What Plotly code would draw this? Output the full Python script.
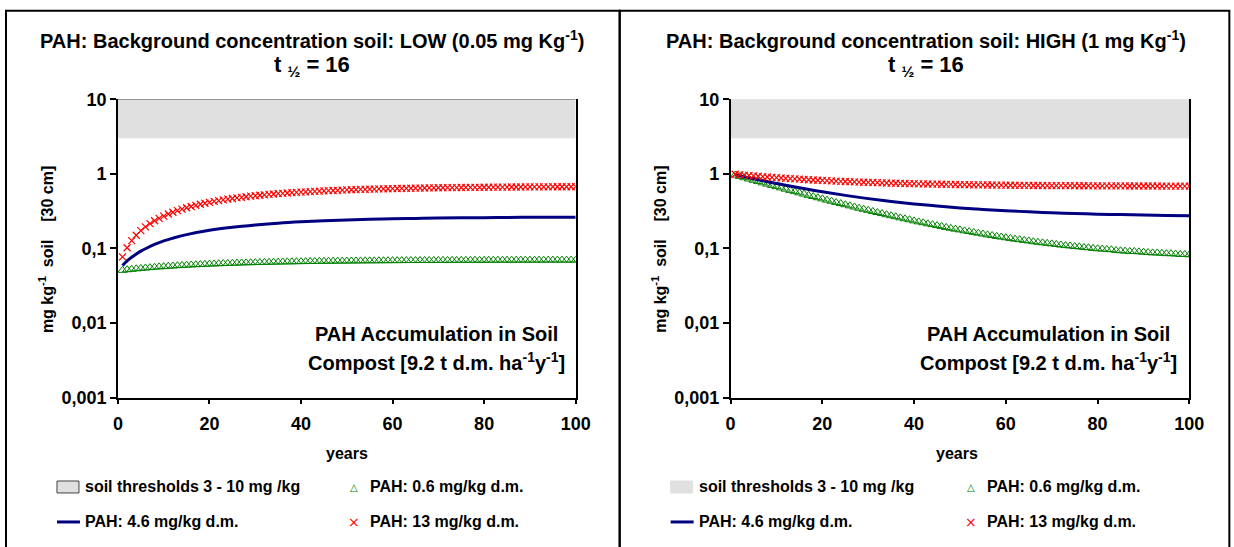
import plotly.graph_objects as go

# the page is photographed with a small offset and scale, so positions
# below are given in reference pixels and mapped onto the figure
W, H = 1234, 547
SX, SY = 0.9845, 0.9648
OX, OY = 5.0, 8.7
FW, FH = 1248, 558

# years with annual values (markers)
years = list(range(1, 101))

# LOW background (0.05 mg/kg)
low_13 = [0.077, 0.102, 0.127, 0.150, 0.173, 0.194, 0.215, 0.235, 0.253, 0.271,
          0.289, 0.305, 0.321, 0.336, 0.351, 0.365, 0.378, 0.391, 0.403, 0.415,
          0.426, 0.437, 0.447, 0.457, 0.467, 0.476, 0.484, 0.493, 0.501, 0.508,
          0.516, 0.523, 0.529, 0.536, 0.542, 0.548, 0.553, 0.559, 0.564, 0.569,
          0.573, 0.578, 0.582, 0.586, 0.590, 0.594, 0.598, 0.601, 0.605, 0.608,
          0.611, 0.614, 0.617, 0.619, 0.622, 0.624, 0.627, 0.629, 0.631, 0.633,
          0.635, 0.637, 0.639, 0.641, 0.642, 0.644, 0.645, 0.647, 0.648, 0.650,
          0.651, 0.652, 0.653, 0.654, 0.656, 0.657, 0.658, 0.659, 0.659, 0.660,
          0.661, 0.662, 0.663, 0.663, 0.664, 0.665, 0.665, 0.666, 0.667, 0.667,
          0.668, 0.668, 0.669, 0.669, 0.670, 0.670, 0.671, 0.671, 0.671, 0.672]

low_06 = [0.0508, 0.0517, 0.0524, 0.0532, 0.0539, 0.0546, 0.0552, 0.0559, 0.0565, 0.0570,
          0.0576, 0.0581, 0.0586, 0.0591, 0.0596, 0.0600, 0.0604, 0.0608, 0.0612, 0.0616,
          0.0619, 0.0623, 0.0626, 0.0629, 0.0632, 0.0635, 0.0638, 0.0641, 0.0643, 0.0645,
          0.0648, 0.0650, 0.0652, 0.0654, 0.0656, 0.0658, 0.0660, 0.0661, 0.0663, 0.0665,
          0.0666, 0.0668, 0.0669, 0.0670, 0.0672, 0.0673, 0.0674, 0.0675, 0.0676, 0.0677,
          0.0678, 0.0679, 0.0680, 0.0681, 0.0682, 0.0682, 0.0683, 0.0684, 0.0684, 0.0685,
          0.0686, 0.0686, 0.0687, 0.0688, 0.0688, 0.0689, 0.0689, 0.0689, 0.0690, 0.0690,
          0.0691, 0.0691, 0.0692, 0.0692, 0.0692, 0.0693, 0.0693, 0.0693, 0.0693, 0.0694,
          0.0694, 0.0694, 0.0695, 0.0695, 0.0695, 0.0695, 0.0695, 0.0696, 0.0696, 0.0696,
          0.0696, 0.0696, 0.0696, 0.0697, 0.0697, 0.0697, 0.0697, 0.0697, 0.0697, 0.0697]

# 4.6 mg/kg line (no markers)
line_years = [1, 2, 3, 4, 5, 6, 8, 10, 12, 15, 20, 25, 30, 35, 40, 45, 50,
              55, 60, 65, 70, 75, 80, 85, 90, 95, 100]
low_46 = [0.059, 0.068, 0.076, 0.084, 0.092, 0.099, 0.113, 0.126, 0.137, 0.153,
          0.175, 0.192, 0.206, 0.218, 0.227, 0.234, 0.240, 0.245, 0.249, 0.252,
          0.255, 0.257, 0.258, 0.260, 0.261, 0.262, 0.262]

# HIGH background (1 mg/kg)
high_13 = [0.986, 0.973, 0.961, 0.949, 0.938, 0.927, 0.916, 0.906, 0.897, 0.888,
           0.879, 0.870, 0.862, 0.854, 0.847, 0.840, 0.833, 0.827, 0.820, 0.815,
           0.809, 0.803, 0.798, 0.793, 0.788, 0.784, 0.779, 0.775, 0.771, 0.767,
           0.764, 0.760, 0.757, 0.753, 0.750, 0.747, 0.744, 0.742, 0.739, 0.737,
           0.734, 0.732, 0.730, 0.728, 0.726, 0.724, 0.722, 0.720, 0.718, 0.717,
           0.715, 0.714, 0.712, 0.711, 0.710, 0.708, 0.707, 0.706, 0.705, 0.704,
           0.703, 0.702, 0.701, 0.700, 0.699, 0.698, 0.698, 0.697, 0.696, 0.695,
           0.695, 0.694, 0.694, 0.693, 0.692, 0.692, 0.691, 0.691, 0.690, 0.690,
           0.690, 0.689, 0.689, 0.688, 0.688, 0.688, 0.687, 0.687, 0.687, 0.686,
           0.686, 0.686, 0.686, 0.685, 0.685, 0.685, 0.685, 0.685, 0.684, 0.684]

high_06 = [0.961, 0.923, 0.887, 0.852, 0.819, 0.787, 0.757, 0.728, 0.700, 0.673,
           0.647, 0.623, 0.600, 0.577, 0.556, 0.535, 0.515, 0.496, 0.478, 0.461,
           0.444, 0.429, 0.413, 0.399, 0.385, 0.372, 0.359, 0.346, 0.335, 0.324,
           0.313, 0.303, 0.293, 0.283, 0.274, 0.266, 0.257, 0.249, 0.242, 0.234,
           0.227, 0.221, 0.214, 0.208, 0.202, 0.197, 0.191, 0.186, 0.181, 0.177,
           0.172, 0.168, 0.164, 0.160, 0.156, 0.152, 0.149, 0.145, 0.142, 0.139,
           0.136, 0.133, 0.131, 0.128, 0.126, 0.123, 0.121, 0.119, 0.117, 0.115,
           0.113, 0.111, 0.109, 0.108, 0.106, 0.105, 0.103, 0.102, 0.100, 0.099,
           0.098, 0.097, 0.096, 0.094, 0.093, 0.092, 0.091, 0.091, 0.090, 0.089,
           0.088, 0.087, 0.087, 0.086, 0.085, 0.085, 0.084, 0.083, 0.083, 0.082]

high_46 = [0.969, 0.939, 0.910, 0.883, 0.857, 0.832, 0.785, 0.742, 0.702, 0.649,
           0.574, 0.514, 0.465, 0.426, 0.395, 0.370, 0.349, 0.333, 0.320, 0.309,
           0.300, 0.294, 0.288, 0.284, 0.280, 0.277, 0.275]

# soil thresholds band
band_x = [0, 100]
band_low = [3, 3]
band_high = [10, 10]

y_ticks = [0.001, 0.01, 0.1, 1, 10]
y_ticktext = ['0,001', '0,01', '0,1', '1', '10']
x_ticks = [0, 20, 40, 60, 80, 100]

titles = ['PAH: Background concentration soil: LOW (0.05 mg Kg<sup>-1</sup>)',
          'PAH: Background concentration soil: HIGH (1 mg Kg<sup>-1</sup>)']
legend_names = ['soil thresholds 3 - 10 mg /kg', 'PAH: 0.6 mg/kg d.m.',
                'PAH: 4.6 mg/kg d.m.', 'PAH: 13 mg/kg d.m.']

FONT = 'Liberation Sans, Arial, sans-serif'
GREEN = '#008000'
RED = '#ff0000'
NAVY = '#000080'
BAND = '#e0e0e0'


def X(px):
    return ((px - OX) / SX) / FW


def Y(py):
    return 1 - ((py - OY) / SY) / FH


def label(px, py, text, size, **kw):
    d = dict(x=X(px), y=Y(py), xref='paper', yref='paper', text=text, showarrow=False,
             xanchor='center', yanchor='middle',
             font=dict(family=FONT, size=size, color='black'))
    d.update(kw)
    return d


fig = go.Figure()

panels = [
    dict(xa='x', ya='y', s13=low_13, s06=low_06, s46=low_46, band_line='#505050'),
    dict(xa='x2', ya='y2', s13=high_13, s06=high_06, s46=high_46, band_line=BAND),
]

for p in panels:
    fig.add_trace(go.Scatter(x=band_x, y=band_low, mode='lines', line=dict(width=0, color=BAND),
                             xaxis=p['xa'], yaxis=p['ya'], showlegend=False, hoverinfo='skip'))
    fig.add_trace(go.Scatter(x=band_x, y=band_high, mode='lines', fill='tonexty', fillcolor=BAND,
                             line=dict(width=1, color=p['band_line']),
                             xaxis=p['xa'], yaxis=p['ya'], showlegend=False, hoverinfo='skip'))
    fig.add_trace(go.Scatter(x=years, y=p['s06'], mode='markers',
                             marker=dict(symbol='triangle-up-open', size=8, color=GREEN,
                                         line=dict(width=1, color=GREEN)),
                             xaxis=p['xa'], yaxis=p['ya'], showlegend=False))
    fig.add_trace(go.Scatter(x=line_years, y=p['s46'], mode='lines', line_shape='spline',
                             line=dict(width=3, color=NAVY),
                             xaxis=p['xa'], yaxis=p['ya'], showlegend=False))
    fig.add_trace(go.Scatter(x=years, y=p['s13'], mode='markers',
                             marker=dict(symbol='x-thin-open', size=7, color=RED,
                                         line=dict(width=1.2, color=RED)),
                             xaxis=p['xa'], yaxis=p['ya'], showlegend=False))

xdom = [[X(118), X(576)], [X(731), X(1190)]]
ydom = [Y(396.5), Y(98)]

tick_font = dict(family=FONT, size=18, color='black', weight='bold')
for i, name in enumerate(['', '2']):
    fig.layout['xaxis' + name] = dict(
        domain=xdom[i], range=[0, 100], tickvals=x_ticks, showgrid=False, zeroline=False,
        showline=True, linecolor='black', linewidth=1.5, ticks='outside', ticklen=5,
        tickcolor='black', tickwidth=1.5, tickfont=tick_font, ticklabelstandoff=4,
        anchor='y' + name, fixedrange=True)
    fig.layout['yaxis' + name] = dict(
        domain=ydom, type='log', range=[-3, 1], tickvals=y_ticks, ticktext=y_ticktext,
        showgrid=False, zeroline=False, showline=True, mirror=True, linecolor='black',
        linewidth=1.5, ticks='outside', ticklen=6, tickcolor='black', tickwidth=1.5,
        tickfont=tick_font, ticklabelstandoff=0, anchor='x' + name, fixedrange=True)

shapes = [
    # panel frames
    dict(type='rect', xref='paper', yref='paper', x0=X(6), x1=X(620), y0=0, y1=Y(9.5),
         line=dict(color='black', width=2)),
    dict(type='rect', xref='paper', yref='paper', x0=X(620), x1=X(1230), y0=0, y1=Y(9.5),
         line=dict(color='black', width=2)),
]
annotations = []

panel_cx = [312, 926]
plot_cx = [347, 958]
box_cx = [437, 1049]
leg_x = [57, 671]
leg_x2 = [354, 972]

for i in range(2):
    annotations.append(label(panel_cx[i], 38, '<b>' + titles[i] + '</b>', 20))
    annotations.append(label(panel_cx[i], 65, '<b>t <sub>½</sub> = 16</b>', 22))
    annotations.append(label(plot_cx[i], 452, '<b>years</b>', 16))
    annotations.append(label(46 + 614 * i, 248, '<b>mg kg<sup>-1</sup>  soil    [30 cm]</b>', 16,
                             textangle=-90))
    annotations.append(label(box_cx[i], 333, '<b>PAH Accumulation in Soil</b>', 20))
    annotations.append(label(box_cx[i], 360,
                             '<b>Compost [9.2 t d.m. ha<sup>-1</sup>y<sup>-1</sup>]</b>', 20))

    # legend
    lx = leg_x[i]
    shapes.append(dict(type='rect', xref='paper', yref='paper', x0=X(lx), x1=X(lx + 22),
                       y0=Y(492), y1=Y(480), fillcolor=BAND,
                       line=dict(color='#404040' if i == 0 else BAND, width=1)))
    shapes.append(dict(type='line', xref='paper', yref='paper', x0=X(lx), x1=X(lx + 23),
                       y0=Y(521), y1=Y(521), line=dict(color=NAVY, width=3)))
    annotations.append(label(lx + 26, 486, '<b>' + legend_names[0] + '</b>', 16, xanchor='left'))
    annotations.append(label(lx + 26, 521, '<b>' + legend_names[2] + '</b>', 16, xanchor='left'))
    annotations.append(label(leg_x2[i], 487, '△', 10,
                             font=dict(family='DejaVu Sans', size=10, color=GREEN)))
    annotations.append(label(leg_x2[i], 521, '×', 14,
                             font=dict(family='DejaVu Sans', size=14, color=RED)))
    annotations.append(label(leg_x2[i] + 14, 486, '<b>' + legend_names[1] + '</b>', 16,
                             xanchor='left'))
    annotations.append(label(leg_x2[i] + 14, 521, '<b>' + legend_names[3] + '</b>', 16,
                             xanchor='left'))

fig.update_layout(
    width=FW, height=FH, margin=dict(l=0, r=0, t=0, b=0),
    paper_bgcolor='white', plot_bgcolor='white', showlegend=False,
    font=dict(family=FONT, color='black'),
    shapes=shapes, annotations=annotations,
)

fig.write_html('out.html', config={'displayModeBar': False},
               post_script="document.body.style.margin='0';"
                           "document.body.style.overflow='hidden';")
